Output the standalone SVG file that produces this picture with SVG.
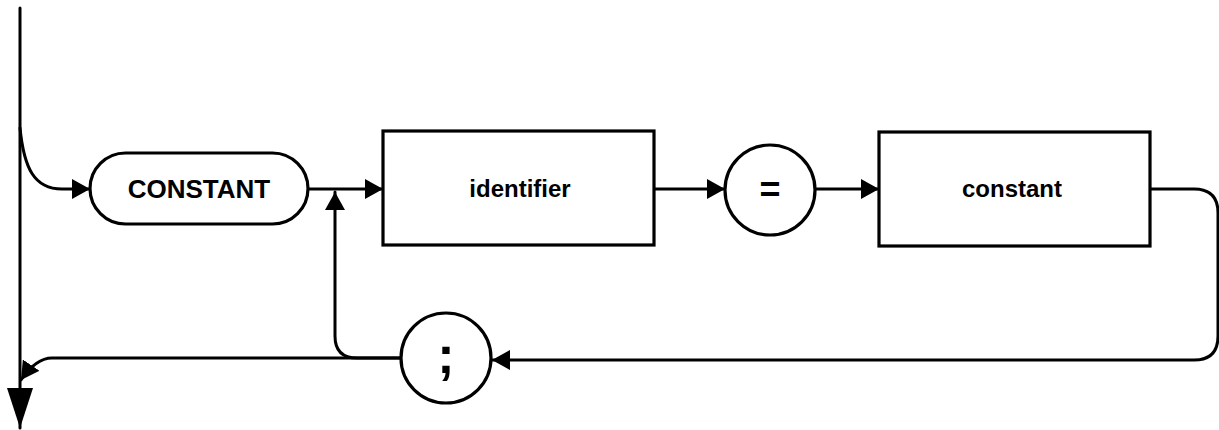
<svg xmlns="http://www.w3.org/2000/svg" width="1219" height="430" viewBox="0 0 1219 430">
<style>
.ln{fill:none;stroke:#000;stroke-width:3;stroke-linecap:round;stroke-linejoin:round}
.shape{fill:#fff;stroke:#000;stroke-width:3.2}
.lbl{font-family:"Liberation Sans",Arial,sans-serif;font-weight:bold;fill:#000;text-anchor:middle}
</style>
<defs>
<marker id="arr" viewBox="0 0 18 20" refX="18" refY="10" markerWidth="18" markerHeight="20" orient="auto" markerUnits="userSpaceOnUse">
<path d="M0,0 L18,10 L0,20 Z" fill="#000"/>
</marker>
<marker id="big" viewBox="0 0 40 26" refX="40" refY="13" markerWidth="40" markerHeight="26" orient="auto" markerUnits="userSpaceOnUse">
<path d="M0,0 L40,13 L0,26 Z" fill="#000"/>
</marker>
</defs>
<g id="connectors">
<path class="ln" d="M20,8 L20,428" marker-end="url(#big)"/>
<path class="ln" d="M20,128 C24,168 34,189 62,189 L90,189" marker-end="url(#arr)"/>
<path class="ln" d="M308,189 L383,189" marker-end="url(#arr)"/>
<path class="ln" d="M654,189 L725,189" marker-end="url(#arr)"/>
<path class="ln" d="M815,189 L879,189" marker-end="url(#arr)"/>
<path class="ln" d="M1150,189 L1194,189 Q1218,189 1218,213 L1218,336 Q1218,360 1194,360 L492,360" marker-end="url(#arr)"/>
<path class="ln" d="M401,358 L357,358 Q335,358 335,336 L335,192" marker-end="url(#arr)"/>
<path class="ln" d="M401,358 L52,358 Q36,358 21,380" marker-end="url(#arr)"/>
</g>
<g id="node-CONSTANT">
<rect class="shape" x="90" y="153" width="218" height="71" rx="35.5"/>
<text class="lbl" x="199" y="198" font-size="26">CONSTANT</text>
</g>
<g id="node-identifier">
<rect class="shape" x="383" y="131" width="271" height="114"/>
<text class="lbl" x="520" y="197" font-size="24">identifier</text>
</g>
<g id="node-equals">
<circle class="shape" cx="770" cy="190" r="45"/>
<text class="lbl" x="770" y="202" font-size="36">=</text>
</g>
<g id="node-constant">
<rect class="shape" x="879" y="132" width="271" height="114"/>
<text class="lbl" x="1012" y="197" font-size="24">constant</text>
</g>
<g id="node-semicolon">
<circle class="shape" cx="446" cy="358" r="45"/>
<text class="lbl" x="446" y="373" font-size="52">;</text>
</g>
</svg>
